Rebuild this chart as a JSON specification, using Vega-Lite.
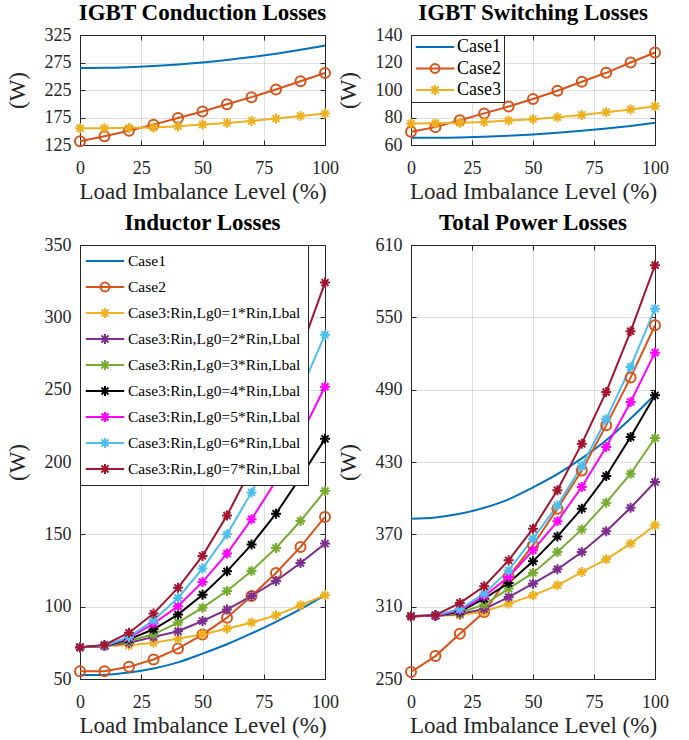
{
  "$schema": "https://vega.github.io/schema/vega-lite/v6.json",
  "padding": {"left": 5, "top": 1, "right": 5, "bottom": 2},
  "datasets": {
    "cond": [
      {"series":"Case1","x":0,"y":265},{"series":"Case1","x":10,"y":265.3},{"series":"Case1","x":20,"y":266.5},{"series":"Case1","x":30,"y":268.5},{"series":"Case1","x":40,"y":271.3},{"series":"Case1","x":50,"y":275},{"series":"Case1","x":60,"y":279.5},{"series":"Case1","x":70,"y":284.9},{"series":"Case1","x":80,"y":291.1},{"series":"Case1","x":90,"y":298.1},{"series":"Case1","x":100,"y":306},
      {"series":"Case2","x":0,"y":132},{"series":"Case2","x":10,"y":141},{"series":"Case2","x":20,"y":151},{"series":"Case2","x":30,"y":162},{"series":"Case2","x":40,"y":174},{"series":"Case2","x":50,"y":186},{"series":"Case2","x":60,"y":199},{"series":"Case2","x":70,"y":212},{"series":"Case2","x":80,"y":226},{"series":"Case2","x":90,"y":241},{"series":"Case2","x":100,"y":256},
      {"series":"Case3","x":0,"y":155.6},{"series":"Case3","x":10,"y":155.6},{"series":"Case3","x":20,"y":156.2},{"series":"Case3","x":30,"y":156.8},{"series":"Case3","x":40,"y":159.2},{"series":"Case3","x":50,"y":162.2},{"series":"Case3","x":60,"y":165.2},{"series":"Case3","x":70,"y":168.8},{"series":"Case3","x":80,"y":173},{"series":"Case3","x":90,"y":177.9},{"series":"Case3","x":100,"y":182.1}
    ],
    "sw": [
      {"series":"Case1","x":0,"y":65.3},{"series":"Case1","x":10,"y":65.3},{"series":"Case1","x":20,"y":65.5},{"series":"Case1","x":30,"y":66},{"series":"Case1","x":40,"y":66.7},{"series":"Case1","x":50,"y":67.7},{"series":"Case1","x":60,"y":68.9},{"series":"Case1","x":70,"y":70.3},{"series":"Case1","x":80,"y":72},{"series":"Case1","x":90,"y":73.9},{"series":"Case1","x":100,"y":76.1},
      {"series":"Case2","x":0,"y":69.6},{"series":"Case2","x":10,"y":73},{"series":"Case2","x":20,"y":78},{"series":"Case2","x":30,"y":83},{"series":"Case2","x":40,"y":88},{"series":"Case2","x":50,"y":93.5},{"series":"Case2","x":60,"y":99.5},{"series":"Case2","x":70,"y":106},{"series":"Case2","x":80,"y":112.5},{"series":"Case2","x":90,"y":120},{"series":"Case2","x":100,"y":127.3},
      {"series":"Case3","x":0,"y":75.6},{"series":"Case3","x":10,"y":75.8},{"series":"Case3","x":20,"y":76.2},{"series":"Case3","x":30,"y":76.8},{"series":"Case3","x":40,"y":77.8},{"series":"Case3","x":50,"y":78.8},{"series":"Case3","x":60,"y":80.2},{"series":"Case3","x":70,"y":81.9},{"series":"Case3","x":80,"y":83.8},{"series":"Case3","x":90,"y":85.9},{"series":"Case3","x":100,"y":88.2}
    ],
    "ind": [
      {"series":"Case1","x":0,"y":52.7},{"series":"Case1","x":10,"y":53},{"series":"Case1","x":20,"y":54.5},{"series":"Case1","x":30,"y":57.3},{"series":"Case1","x":40,"y":61.5},{"series":"Case1","x":50,"y":67.5},{"series":"Case1","x":60,"y":74},{"series":"Case1","x":70,"y":81.5},{"series":"Case1","x":80,"y":89.5},{"series":"Case1","x":90,"y":98.3},{"series":"Case1","x":100,"y":108},
      {"series":"Case2","x":0,"y":55.4},{"series":"Case2","x":10,"y":55.4},{"series":"Case2","x":20,"y":58.4},{"series":"Case2","x":30,"y":63.5},{"series":"Case2","x":40,"y":71},{"series":"Case2","x":50,"y":80.7},{"series":"Case2","x":60,"y":92.4},{"series":"Case2","x":70,"y":107.4},{"series":"Case2","x":80,"y":123.3},{"series":"Case2","x":90,"y":141.3},{"series":"Case2","x":100,"y":162},
      {"series":"Case3:Rin,Lg0=1*Rin,Lbal","x":0,"y":72},{"series":"Case3:Rin,Lg0=1*Rin,Lbal","x":10,"y":72.8},{"series":"Case3:Rin,Lg0=1*Rin,Lbal","x":20,"y":73.3},{"series":"Case3:Rin,Lg0=1*Rin,Lbal","x":30,"y":75.1},{"series":"Case3:Rin,Lg0=1*Rin,Lbal","x":40,"y":77.9},{"series":"Case3:Rin,Lg0=1*Rin,Lbal","x":50,"y":80.9},{"series":"Case3:Rin,Lg0=1*Rin,Lbal","x":60,"y":84.8},{"series":"Case3:Rin,Lg0=1*Rin,Lbal","x":70,"y":89},{"series":"Case3:Rin,Lg0=1*Rin,Lbal","x":80,"y":94},{"series":"Case3:Rin,Lg0=1*Rin,Lbal","x":90,"y":101},{"series":"Case3:Rin,Lg0=1*Rin,Lbal","x":100,"y":108},
      {"series":"Case3:Rin,Lg0=2*Rin,Lbal","x":0,"y":72},{"series":"Case3:Rin,Lg0=2*Rin,Lbal","x":10,"y":72.8},{"series":"Case3:Rin,Lg0=2*Rin,Lbal","x":20,"y":75.1},{"series":"Case3:Rin,Lg0=2*Rin,Lbal","x":30,"y":79},{"series":"Case3:Rin,Lg0=2*Rin,Lbal","x":40,"y":83},{"series":"Case3:Rin,Lg0=2*Rin,Lbal","x":50,"y":90.1},{"series":"Case3:Rin,Lg0=2*Rin,Lbal","x":60,"y":98},{"series":"Case3:Rin,Lg0=2*Rin,Lbal","x":70,"y":107.4},{"series":"Case3:Rin,Lg0=2*Rin,Lbal","x":80,"y":117.8},{"series":"Case3:Rin,Lg0=2*Rin,Lbal","x":90,"y":130.2},{"series":"Case3:Rin,Lg0=2*Rin,Lbal","x":100,"y":143.6},
      {"series":"Case3:Rin,Lg0=3*Rin,Lbal","x":0,"y":72},{"series":"Case3:Rin,Lg0=3*Rin,Lbal","x":10,"y":72.8},{"series":"Case3:Rin,Lg0=3*Rin,Lbal","x":20,"y":76.3},{"series":"Case3:Rin,Lg0=3*Rin,Lbal","x":30,"y":80.9},{"series":"Case3:Rin,Lg0=3*Rin,Lbal","x":40,"y":89},{"series":"Case3:Rin,Lg0=3*Rin,Lbal","x":50,"y":99.3},{"series":"Case3:Rin,Lg0=3*Rin,Lbal","x":60,"y":110.8},{"series":"Case3:Rin,Lg0=3*Rin,Lbal","x":70,"y":124.7},{"series":"Case3:Rin,Lg0=3*Rin,Lbal","x":80,"y":140.6},{"series":"Case3:Rin,Lg0=3*Rin,Lbal","x":90,"y":159.2},{"series":"Case3:Rin,Lg0=3*Rin,Lbal","x":100,"y":180},
      {"series":"Case3:Rin,Lg0=4*Rin,Lbal","x":0,"y":72},{"series":"Case3:Rin,Lg0=4*Rin,Lbal","x":10,"y":72.8},{"series":"Case3:Rin,Lg0=4*Rin,Lbal","x":20,"y":77.4},{"series":"Case3:Rin,Lg0=4*Rin,Lbal","x":30,"y":84.4},{"series":"Case3:Rin,Lg0=4*Rin,Lbal","x":40,"y":94.5},{"series":"Case3:Rin,Lg0=4*Rin,Lbal","x":50,"y":108.3},{"series":"Case3:Rin,Lg0=4*Rin,Lbal","x":60,"y":124.4},{"series":"Case3:Rin,Lg0=4*Rin,Lbal","x":70,"y":142.9},{"series":"Case3:Rin,Lg0=4*Rin,Lbal","x":80,"y":164.3},{"series":"Case3:Rin,Lg0=4*Rin,Lbal","x":90,"y":189.5},{"series":"Case3:Rin,Lg0=4*Rin,Lbal","x":100,"y":216},
      {"series":"Case3:Rin,Lg0=5*Rin,Lbal","x":0,"y":72},{"series":"Case3:Rin,Lg0=5*Rin,Lbal","x":10,"y":72.8},{"series":"Case3:Rin,Lg0=5*Rin,Lbal","x":20,"y":78.4},{"series":"Case3:Rin,Lg0=5*Rin,Lbal","x":30,"y":88.3},{"series":"Case3:Rin,Lg0=5*Rin,Lbal","x":40,"y":100.3},{"series":"Case3:Rin,Lg0=5*Rin,Lbal","x":50,"y":117.1},{"series":"Case3:Rin,Lg0=5*Rin,Lbal","x":60,"y":136.7},{"series":"Case3:Rin,Lg0=5*Rin,Lbal","x":70,"y":160.4},{"series":"Case3:Rin,Lg0=5*Rin,Lbal","x":80,"y":187},{"series":"Case3:Rin,Lg0=5*Rin,Lbal","x":90,"y":218},{"series":"Case3:Rin,Lg0=5*Rin,Lbal","x":100,"y":252},
      {"series":"Case3:Rin,Lg0=6*Rin,Lbal","x":0,"y":72},{"series":"Case3:Rin,Lg0=6*Rin,Lbal","x":10,"y":73},{"series":"Case3:Rin,Lg0=6*Rin,Lbal","x":20,"y":79},{"series":"Case3:Rin,Lg0=6*Rin,Lbal","x":30,"y":90.6},{"series":"Case3:Rin,Lg0=6*Rin,Lbal","x":40,"y":106},{"series":"Case3:Rin,Lg0=6*Rin,Lbal","x":50,"y":126.3},{"series":"Case3:Rin,Lg0=6*Rin,Lbal","x":60,"y":150},{"series":"Case3:Rin,Lg0=6*Rin,Lbal","x":70,"y":179},{"series":"Case3:Rin,Lg0=6*Rin,Lbal","x":80,"y":212},{"series":"Case3:Rin,Lg0=6*Rin,Lbal","x":90,"y":249},{"series":"Case3:Rin,Lg0=6*Rin,Lbal","x":100,"y":288},
      {"series":"Case3:Rin,Lg0=7*Rin,Lbal","x":0,"y":72},{"series":"Case3:Rin,Lg0=7*Rin,Lbal","x":10,"y":73.5},{"series":"Case3:Rin,Lg0=7*Rin,Lbal","x":20,"y":82},{"series":"Case3:Rin,Lg0=7*Rin,Lbal","x":30,"y":95.2},{"series":"Case3:Rin,Lg0=7*Rin,Lbal","x":40,"y":113},{"series":"Case3:Rin,Lg0=7*Rin,Lbal","x":50,"y":135.1},{"series":"Case3:Rin,Lg0=7*Rin,Lbal","x":60,"y":163},{"series":"Case3:Rin,Lg0=7*Rin,Lbal","x":70,"y":196},{"series":"Case3:Rin,Lg0=7*Rin,Lbal","x":80,"y":234},{"series":"Case3:Rin,Lg0=7*Rin,Lbal","x":90,"y":277},{"series":"Case3:Rin,Lg0=7*Rin,Lbal","x":100,"y":324}
    ],
    "tot": [
      {"series":"Case1","x":0,"y":383},{"series":"Case1","x":10,"y":384},{"series":"Case1","x":20,"y":387},{"series":"Case1","x":30,"y":392},{"series":"Case1","x":40,"y":399},{"series":"Case1","x":50,"y":409},{"series":"Case1","x":60,"y":420},{"series":"Case1","x":70,"y":433},{"series":"Case1","x":80,"y":448},{"series":"Case1","x":90,"y":466},{"series":"Case1","x":100,"y":486},
      {"series":"Case2","x":0,"y":255.8},{"series":"Case2","x":10,"y":269},{"series":"Case2","x":20,"y":287.6},{"series":"Case2","x":30,"y":305.6},{"series":"Case2","x":40,"y":335},{"series":"Case2","x":50,"y":361},{"series":"Case2","x":60,"y":391.3},{"series":"Case2","x":70,"y":423},{"series":"Case2","x":80,"y":460.4},{"series":"Case2","x":90,"y":500},{"series":"Case2","x":100,"y":543.4},
      {"series":"Case3:Rin,Lg0=1*Rin,Lbal","x":0,"y":302},{"series":"Case3:Rin,Lg0=1*Rin,Lbal","x":10,"y":302.5},{"series":"Case3:Rin,Lg0=1*Rin,Lbal","x":20,"y":303},{"series":"Case3:Rin,Lg0=1*Rin,Lbal","x":30,"y":306},{"series":"Case3:Rin,Lg0=1*Rin,Lbal","x":40,"y":312.5},{"series":"Case3:Rin,Lg0=1*Rin,Lbal","x":50,"y":319.4},{"series":"Case3:Rin,Lg0=1*Rin,Lbal","x":60,"y":327.7},{"series":"Case3:Rin,Lg0=1*Rin,Lbal","x":70,"y":338.7},{"series":"Case3:Rin,Lg0=1*Rin,Lbal","x":80,"y":349.3},{"series":"Case3:Rin,Lg0=1*Rin,Lbal","x":90,"y":362.3},{"series":"Case3:Rin,Lg0=1*Rin,Lbal","x":100,"y":377.5},
      {"series":"Case3:Rin,Lg0=2*Rin,Lbal","x":0,"y":302},{"series":"Case3:Rin,Lg0=2*Rin,Lbal","x":10,"y":302.5},{"series":"Case3:Rin,Lg0=2*Rin,Lbal","x":20,"y":304},{"series":"Case3:Rin,Lg0=2*Rin,Lbal","x":30,"y":308},{"series":"Case3:Rin,Lg0=2*Rin,Lbal","x":40,"y":318},{"series":"Case3:Rin,Lg0=2*Rin,Lbal","x":50,"y":329.1},{"series":"Case3:Rin,Lg0=2*Rin,Lbal","x":60,"y":341},{"series":"Case3:Rin,Lg0=2*Rin,Lbal","x":70,"y":355.3},{"series":"Case3:Rin,Lg0=2*Rin,Lbal","x":80,"y":372.5},{"series":"Case3:Rin,Lg0=2*Rin,Lbal","x":90,"y":392.1},{"series":"Case3:Rin,Lg0=2*Rin,Lbal","x":100,"y":413.4},
      {"series":"Case3:Rin,Lg0=3*Rin,Lbal","x":0,"y":302},{"series":"Case3:Rin,Lg0=3*Rin,Lbal","x":10,"y":302.5},{"series":"Case3:Rin,Lg0=3*Rin,Lbal","x":20,"y":305},{"series":"Case3:Rin,Lg0=3*Rin,Lbal","x":30,"y":311.7},{"series":"Case3:Rin,Lg0=3*Rin,Lbal","x":40,"y":325},{"series":"Case3:Rin,Lg0=3*Rin,Lbal","x":50,"y":338},{"series":"Case3:Rin,Lg0=3*Rin,Lbal","x":60,"y":355.3},{"series":"Case3:Rin,Lg0=3*Rin,Lbal","x":70,"y":374.1},{"series":"Case3:Rin,Lg0=3*Rin,Lbal","x":80,"y":396.3},{"series":"Case3:Rin,Lg0=3*Rin,Lbal","x":90,"y":420.3},{"series":"Case3:Rin,Lg0=3*Rin,Lbal","x":100,"y":449.9},
      {"series":"Case3:Rin,Lg0=4*Rin,Lbal","x":0,"y":302},{"series":"Case3:Rin,Lg0=4*Rin,Lbal","x":10,"y":302.5},{"series":"Case3:Rin,Lg0=4*Rin,Lbal","x":20,"y":306},{"series":"Case3:Rin,Lg0=4*Rin,Lbal","x":30,"y":316.6},{"series":"Case3:Rin,Lg0=4*Rin,Lbal","x":40,"y":329.6},{"series":"Case3:Rin,Lg0=4*Rin,Lbal","x":50,"y":347.6},{"series":"Case3:Rin,Lg0=4*Rin,Lbal","x":60,"y":368.3},{"series":"Case3:Rin,Lg0=4*Rin,Lbal","x":70,"y":391.3},{"series":"Case3:Rin,Lg0=4*Rin,Lbal","x":80,"y":418.4},{"series":"Case3:Rin,Lg0=4*Rin,Lbal","x":90,"y":450.8},{"series":"Case3:Rin,Lg0=4*Rin,Lbal","x":100,"y":485.3},
      {"series":"Case3:Rin,Lg0=5*Rin,Lbal","x":0,"y":302},{"series":"Case3:Rin,Lg0=5*Rin,Lbal","x":10,"y":302.5},{"series":"Case3:Rin,Lg0=5*Rin,Lbal","x":20,"y":307},{"series":"Case3:Rin,Lg0=5*Rin,Lbal","x":30,"y":318.8},{"series":"Case3:Rin,Lg0=5*Rin,Lbal","x":40,"y":334.6},{"series":"Case3:Rin,Lg0=5*Rin,Lbal","x":50,"y":356.7},{"series":"Case3:Rin,Lg0=5*Rin,Lbal","x":60,"y":380.8},{"series":"Case3:Rin,Lg0=5*Rin,Lbal","x":70,"y":409.3},{"series":"Case3:Rin,Lg0=5*Rin,Lbal","x":80,"y":442.5},{"series":"Case3:Rin,Lg0=5*Rin,Lbal","x":90,"y":479.8},{"series":"Case3:Rin,Lg0=5*Rin,Lbal","x":100,"y":520.7},
      {"series":"Case3:Rin,Lg0=6*Rin,Lbal","x":0,"y":302},{"series":"Case3:Rin,Lg0=6*Rin,Lbal","x":10,"y":303},{"series":"Case3:Rin,Lg0=6*Rin,Lbal","x":20,"y":308},{"series":"Case3:Rin,Lg0=6*Rin,Lbal","x":30,"y":320.8},{"series":"Case3:Rin,Lg0=6*Rin,Lbal","x":40,"y":340.1},{"series":"Case3:Rin,Lg0=6*Rin,Lbal","x":50,"y":366.4},{"series":"Case3:Rin,Lg0=6*Rin,Lbal","x":60,"y":394},{"series":"Case3:Rin,Lg0=6*Rin,Lbal","x":70,"y":426.7},{"series":"Case3:Rin,Lg0=6*Rin,Lbal","x":80,"y":465.4},{"series":"Case3:Rin,Lg0=6*Rin,Lbal","x":90,"y":508.8},{"series":"Case3:Rin,Lg0=6*Rin,Lbal","x":100,"y":557.2},
      {"series":"Case3:Rin,Lg0=7*Rin,Lbal","x":0,"y":302},{"series":"Case3:Rin,Lg0=7*Rin,Lbal","x":10,"y":303},{"series":"Case3:Rin,Lg0=7*Rin,Lbal","x":20,"y":313},{"series":"Case3:Rin,Lg0=7*Rin,Lbal","x":30,"y":326.9},{"series":"Case3:Rin,Lg0=7*Rin,Lbal","x":40,"y":348.4},{"series":"Case3:Rin,Lg0=7*Rin,Lbal","x":50,"y":374.7},{"series":"Case3:Rin,Lg0=7*Rin,Lbal","x":60,"y":406.5},{"series":"Case3:Rin,Lg0=7*Rin,Lbal","x":70,"y":445.2},{"series":"Case3:Rin,Lg0=7*Rin,Lbal","x":80,"y":488.1},{"series":"Case3:Rin,Lg0=7*Rin,Lbal","x":90,"y":538.4},{"series":"Case3:Rin,Lg0=7*Rin,Lbal","x":100,"y":593.2}
    ]
  },
  "columns": 2,
  "spacing": {"row": 100, "column": 86},
  "bounds": "flush",
  "resolve": {"scale": {"color": "independent", "shape": "independent"}, "legend": {"color": "independent", "shape": "independent"}},
  "concat": [
    {
      "title": "IGBT Conduction Losses",
      "width": 245, "height": 110,
      "data": {"name": "cond"},
      "resolve": {"axis": {"x": "independent", "y": "independent"}},
      "encoding": {
        "color": {"field": "series", "type": "nominal", "scale": {"domain": ["Case1", "Case2", "Case3"], "range": ["#0072BD", "#D95319", "#EDB120"]}, "legend": null}
      },
      "layer": [
        {"transform": [{"filter": "datum.series == 'Case1'"}], "mark": {"type": "line", "interpolate": "monotone", "strokeWidth": 2},
         "encoding": {
           "x": {"field": "x", "type": "quantitative", "scale": {"domain": [0, 100], "nice": false}, "axis": {"values": [0, 25, 50, 75, 100], "title": "Load Imbalance Level (%)"}},
           "y": {"field": "y", "type": "quantitative", "scale": {"domain": [125, 325], "nice": false, "zero": false}, "axis": {"values": [125, 175, 225, 275, 325], "title": "(W)"}}}},
        {"transform": [{"filter": "datum.series != 'Case1'"}], "mark": {"type": "line", "strokeWidth": 2},
         "encoding": {
           "x": {"field": "x", "type": "quantitative", "scale": {"domain": [0, 100], "nice": false}, "axis": null},
           "y": {"field": "y", "type": "quantitative", "scale": {"domain": [125, 325], "nice": false, "zero": false}, "axis": null}}},
        {"transform": [{"filter": "datum.series != 'Case1'"}], "mark": {"type": "point", "filled": false, "size": 100, "strokeWidth": 2, "opacity": 1},
         "encoding": {
           "x": {"field": "x", "type": "quantitative", "scale": {"domain": [0, 100], "nice": false}, "axis": {"orient": "top", "values": [0, 25, 50, 75, 100], "labels": false, "title": null, "grid": false}},
           "y": {"field": "y", "type": "quantitative", "scale": {"domain": [125, 325], "nice": false, "zero": false}, "axis": {"orient": "right", "values": [125, 175, 225, 275, 325], "labels": false, "title": null, "grid": false}},
           "shape": {"field": "series", "type": "nominal", "scale": {"domain": ["Case2", "Case3"], "range": ["circle", "M-1,0H1M0,-1V1M-0.7,-0.7L0.7,0.7M-0.7,0.7L0.7,-0.7"]}, "legend": null}}}
      ]
    },
    {
      "title": "IGBT Switching Losses",
      "width": 244, "height": 110,
      "data": {"name": "sw"},
      "resolve": {"axis": {"x": "independent", "y": "independent"}},
      "encoding": {
        "color": {"field": "series", "type": "nominal", "scale": {"domain": ["Case1", "Case2", "Case3"], "range": ["#0072BD", "#D95319", "#EDB120"]},
          "legend": {"title": null, "orient": "top-left", "offset": 0, "padding": 3, "rowPadding": 3.5, "labelFontSize": 18, "symbolSize": 256, "symbolStrokeWidth": 2, "symbolOffset": 12, "labelOffset": 13,
            "encode": {"symbols": {"update": {"shape": {"signal": "datum.value === 'Case1' ? 'M-2.4,0H2.4' : datum.value === 'Case2' ? 'M-2.4,0H2.4M0.56,0A0.56,0.56,0,1,1,-0.56,0A0.56,0.56,0,1,1,0.56,0' : 'M-2.4,0H2.4M0,-0.62V0.62M-0.44,-0.44L0.44,0.44M-0.44,0.44L0.44,-0.44'"}, "fill": {"value": "transparent"}}}}}}
      },
      "layer": [
        {"transform": [{"filter": "datum.series == 'Case1'"}], "mark": {"type": "line", "interpolate": "monotone", "strokeWidth": 2},
         "encoding": {
           "x": {"field": "x", "type": "quantitative", "scale": {"domain": [0, 100], "nice": false}, "axis": {"values": [0, 25, 50, 75, 100], "title": "Load Imbalance Level (%)"}},
           "y": {"field": "y", "type": "quantitative", "scale": {"domain": [60, 140], "nice": false, "zero": false}, "axis": {"values": [60, 80, 100, 120, 140], "title": "(W)"}}}},
        {"transform": [{"filter": "datum.series != 'Case1'"}], "mark": {"type": "line", "strokeWidth": 2},
         "encoding": {
           "x": {"field": "x", "type": "quantitative", "scale": {"domain": [0, 100], "nice": false}, "axis": null},
           "y": {"field": "y", "type": "quantitative", "scale": {"domain": [60, 140], "nice": false, "zero": false}, "axis": null}}},
        {"transform": [{"filter": "datum.series != 'Case1'"}], "mark": {"type": "point", "filled": false, "size": 100, "strokeWidth": 2, "opacity": 1},
         "encoding": {
           "x": {"field": "x", "type": "quantitative", "scale": {"domain": [0, 100], "nice": false}, "axis": {"orient": "top", "values": [0, 25, 50, 75, 100], "labels": false, "title": null, "grid": false}},
           "y": {"field": "y", "type": "quantitative", "scale": {"domain": [60, 140], "nice": false, "zero": false}, "axis": {"orient": "right", "values": [60, 80, 100, 120, 140], "labels": false, "title": null, "grid": false}},
           "shape": {"field": "series", "type": "nominal", "scale": {"domain": ["Case2", "Case3"], "range": ["circle", "M-1,0H1M0,-1V1M-0.7,-0.7L0.7,0.7M-0.7,0.7L0.7,-0.7"]}, "legend": null}}}
      ]
    },
    {
      "title": "Inductor Losses",
      "width": 245, "height": 434,
      "data": {"name": "ind"},
      "resolve": {"axis": {"x": "independent", "y": "independent"}},
      "encoding": {
        "color": {"field": "series", "type": "nominal",
          "scale": {"domain": ["Case1", "Case2", "Case3:Rin,Lg0=1*Rin,Lbal", "Case3:Rin,Lg0=2*Rin,Lbal", "Case3:Rin,Lg0=3*Rin,Lbal", "Case3:Rin,Lg0=4*Rin,Lbal", "Case3:Rin,Lg0=5*Rin,Lbal", "Case3:Rin,Lg0=6*Rin,Lbal", "Case3:Rin,Lg0=7*Rin,Lbal"],
                    "range": ["#0072BD", "#D95319", "#EDB120", "#7E2F8E", "#77AC30", "#000000", "#FF00FF", "#4DBEEE", "#A2142F"]},
          "legend": {"title": null, "orient": "top-left", "offset": 0, "padding": 7, "rowPadding": 8, "labelFontSize": 15.5, "symbolSize": 256, "symbolStrokeWidth": 2, "symbolOffset": 9, "labelOffset": 14,
            "encode": {"symbols": {"update": {"shape": {"signal": "datum.value === 'Case1' ? 'M-2.4,0H2.4' : datum.value === 'Case2' ? 'M-2.4,0H2.4M0.56,0A0.56,0.56,0,1,1,-0.56,0A0.56,0.56,0,1,1,0.56,0' : 'M-2.4,0H2.4M0,-0.62V0.62M-0.44,-0.44L0.44,0.44M-0.44,0.44L0.44,-0.44'"}, "fill": {"value": "transparent"}}}}}}
      },
      "layer": [
        {"transform": [{"filter": "datum.series == 'Case1'"}], "mark": {"type": "line", "interpolate": "monotone", "strokeWidth": 2},
         "encoding": {
           "x": {"field": "x", "type": "quantitative", "scale": {"domain": [0, 100], "nice": false}, "axis": {"values": [0, 25, 50, 75, 100], "title": "Load Imbalance Level (%)"}},
           "y": {"field": "y", "type": "quantitative", "scale": {"domain": [50, 350], "nice": false, "zero": false}, "axis": {"values": [50, 100, 150, 200, 250, 300, 350], "title": "(W)"}}}},
        {"transform": [{"filter": "datum.series != 'Case1'"}], "mark": {"type": "line", "strokeWidth": 2},
         "encoding": {
           "x": {"field": "x", "type": "quantitative", "scale": {"domain": [0, 100], "nice": false}, "axis": null},
           "y": {"field": "y", "type": "quantitative", "scale": {"domain": [50, 350], "nice": false, "zero": false}, "axis": null}}},
        {"transform": [{"filter": "datum.series != 'Case1'"}], "mark": {"type": "point", "filled": false, "size": 100, "strokeWidth": 2, "opacity": 1},
         "encoding": {
           "x": {"field": "x", "type": "quantitative", "scale": {"domain": [0, 100], "nice": false}, "axis": {"orient": "top", "values": [0, 25, 50, 75, 100], "labels": false, "title": null, "grid": false}},
           "y": {"field": "y", "type": "quantitative", "scale": {"domain": [50, 350], "nice": false, "zero": false}, "axis": {"orient": "right", "values": [50, 100, 150, 200, 250, 300, 350], "labels": false, "title": null, "grid": false}},
           "shape": {"field": "series", "type": "nominal", "scale": {"domain": ["Case2", "Case3:Rin,Lg0=1*Rin,Lbal", "Case3:Rin,Lg0=2*Rin,Lbal", "Case3:Rin,Lg0=3*Rin,Lbal", "Case3:Rin,Lg0=4*Rin,Lbal", "Case3:Rin,Lg0=5*Rin,Lbal", "Case3:Rin,Lg0=6*Rin,Lbal", "Case3:Rin,Lg0=7*Rin,Lbal"], "range": ["circle", "M-1,0H1M0,-1V1M-0.7,-0.7L0.7,0.7M-0.7,0.7L0.7,-0.7", "M-1,0H1M0,-1V1M-0.7,-0.7L0.7,0.7M-0.7,0.7L0.7,-0.7", "M-1,0H1M0,-1V1M-0.7,-0.7L0.7,0.7M-0.7,0.7L0.7,-0.7", "M-1,0H1M0,-1V1M-0.7,-0.7L0.7,0.7M-0.7,0.7L0.7,-0.7", "M-1,0H1M0,-1V1M-0.7,-0.7L0.7,0.7M-0.7,0.7L0.7,-0.7", "M-1,0H1M0,-1V1M-0.7,-0.7L0.7,0.7M-0.7,0.7L0.7,-0.7", "M-1,0H1M0,-1V1M-0.7,-0.7L0.7,0.7M-0.7,0.7L0.7,-0.7"]}, "legend": null}}}
      ]
    },
    {
      "title": "Total Power Losses",
      "width": 244, "height": 434,
      "data": {"name": "tot"},
      "resolve": {"axis": {"x": "independent", "y": "independent"}},
      "encoding": {
        "color": {"field": "series", "type": "nominal",
          "scale": {"domain": ["Case1", "Case2", "Case3:Rin,Lg0=1*Rin,Lbal", "Case3:Rin,Lg0=2*Rin,Lbal", "Case3:Rin,Lg0=3*Rin,Lbal", "Case3:Rin,Lg0=4*Rin,Lbal", "Case3:Rin,Lg0=5*Rin,Lbal", "Case3:Rin,Lg0=6*Rin,Lbal", "Case3:Rin,Lg0=7*Rin,Lbal"],
                    "range": ["#0072BD", "#D95319", "#EDB120", "#7E2F8E", "#77AC30", "#000000", "#FF00FF", "#4DBEEE", "#A2142F"]},
          "legend": null}
      },
      "layer": [
        {"transform": [{"filter": "datum.series == 'Case1'"}], "mark": {"type": "line", "interpolate": "monotone", "strokeWidth": 2},
         "encoding": {
           "x": {"field": "x", "type": "quantitative", "scale": {"domain": [0, 100], "nice": false}, "axis": {"values": [0, 25, 50, 75, 100], "title": "Load Imbalance Level (%)"}},
           "y": {"field": "y", "type": "quantitative", "scale": {"domain": [250, 610], "nice": false, "zero": false}, "axis": {"values": [250, 310, 370, 430, 490, 550, 610], "title": "(W)"}}}},
        {"transform": [{"filter": "datum.series != 'Case1'"}], "mark": {"type": "line", "strokeWidth": 2},
         "encoding": {
           "x": {"field": "x", "type": "quantitative", "scale": {"domain": [0, 100], "nice": false}, "axis": null},
           "y": {"field": "y", "type": "quantitative", "scale": {"domain": [250, 610], "nice": false, "zero": false}, "axis": null}}},
        {"transform": [{"filter": "datum.series != 'Case1'"}], "mark": {"type": "point", "filled": false, "size": 100, "strokeWidth": 2, "opacity": 1},
         "encoding": {
           "x": {"field": "x", "type": "quantitative", "scale": {"domain": [0, 100], "nice": false}, "axis": {"orient": "top", "values": [0, 25, 50, 75, 100], "labels": false, "title": null, "grid": false}},
           "y": {"field": "y", "type": "quantitative", "scale": {"domain": [250, 610], "nice": false, "zero": false}, "axis": {"orient": "right", "values": [250, 310, 370, 430, 490, 550, 610], "labels": false, "title": null, "grid": false}},
           "shape": {"field": "series", "type": "nominal", "scale": {"domain": ["Case2", "Case3:Rin,Lg0=1*Rin,Lbal", "Case3:Rin,Lg0=2*Rin,Lbal", "Case3:Rin,Lg0=3*Rin,Lbal", "Case3:Rin,Lg0=4*Rin,Lbal", "Case3:Rin,Lg0=5*Rin,Lbal", "Case3:Rin,Lg0=6*Rin,Lbal", "Case3:Rin,Lg0=7*Rin,Lbal"], "range": ["circle", "M-1,0H1M0,-1V1M-0.7,-0.7L0.7,0.7M-0.7,0.7L0.7,-0.7", "M-1,0H1M0,-1V1M-0.7,-0.7L0.7,0.7M-0.7,0.7L0.7,-0.7", "M-1,0H1M0,-1V1M-0.7,-0.7L0.7,0.7M-0.7,0.7L0.7,-0.7", "M-1,0H1M0,-1V1M-0.7,-0.7L0.7,0.7M-0.7,0.7L0.7,-0.7", "M-1,0H1M0,-1V1M-0.7,-0.7L0.7,0.7M-0.7,0.7L0.7,-0.7", "M-1,0H1M0,-1V1M-0.7,-0.7L0.7,0.7M-0.7,0.7L0.7,-0.7", "M-1,0H1M0,-1V1M-0.7,-0.7L0.7,0.7M-0.7,0.7L0.7,-0.7"]}, "legend": null}}}
      ]
    }
  ],
  "config": {
    "font": "Liberation Serif",
    "style": {"guide-label": {"font": "Liberation Serif"}, "guide-title": {"font": "Liberation Serif"}, "group-title": {"font": "Liberation Serif"}},
    "view": {"stroke": "#262626", "strokeWidth": 1},
    "axis": {
      "labelFont": "Liberation Serif", "labelFontSize": 18, "labelColor": "#262626",
      "titleFont": "Liberation Serif", "titleFontSize": 23, "titleFontWeight": "normal", "titleColor": "#262626",
      "gridColor": "#262626", "gridOpacity": 0.15, "gridWidth": 1,
      "domain": false, "tickColor": "#262626", "tickSize": -5, "tickWidth": 1, "labelFlush": false, "labelOverlap": false
    },
    "axisX": {"labelPadding": 19, "titlePadding": 3},
    "axisY": {"labelPadding": 14, "titlePadding": 15},
    "title": {"font": "Liberation Serif", "fontSize": 23, "fontWeight": "bold", "color": "#000000", "frame": "group", "anchor": "middle", "offset": 1},
    "legend": {"labelFont": "Liberation Serif", "labelColor": "#000000", "fillColor": "#ffffff", "strokeColor": "#262626", "cornerRadius": 0, "labelLimit": 400}
  }
}
